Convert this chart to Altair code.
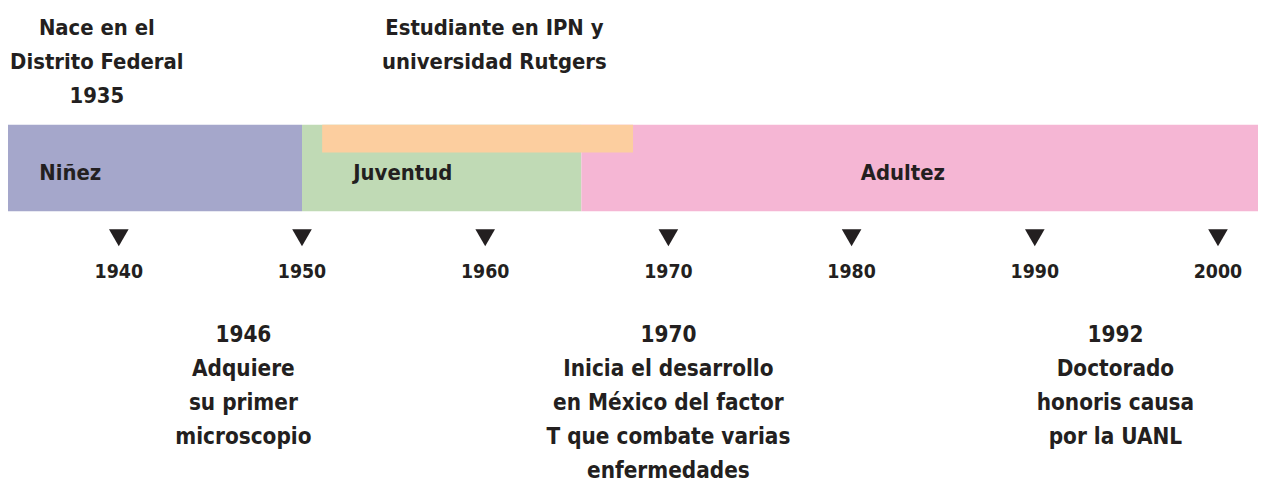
import altair as alt
import pandas as pd

# ---- data ----
stage_names = ["Niñez", "Juventud", "Adultez"]
stage_start = [1933.7, 1950.0, 1965.25]
stage_end = [1950.0, 1965.25, 2003.0]
stage_colors = ["#A5A7CB", "#C0DAB5", "#F5B6D4"]
stage_label_year = [1937.35, 1955.5, 1982.8]

study_start = [1951.1]
study_end = [1968.07]

tick_years = [1940, 1950, 1960, 1970, 1980, 1990, 2000]

top_notes = [
    ["Nace en el", "Distrito Federal", "1935"],
    ["Estudiante en IPN y", "universidad Rutgers"],
]
top_note_year = [1938.8, 1960.5]

event_lines = [
    ["1946", "Adquiere", "su primer", "microscopio"],
    ["1970", "Inicia el desarrollo", "en México del factor", "T que combate varias", "enfermedades"],
    ["1992", "Doctorado", "honoris causa", "por la UANL"],
]
event_year = [1946.8, 1970.0, 1994.4]

# ---- tables ----
stages = pd.DataFrame({"name": stage_names, "start": stage_start, "end": stage_end,
                       "lx": stage_label_year})
study = pd.DataFrame({"start": study_start, "end": study_end})
ticks = pd.DataFrame({"year": tick_years})
tops = alt.Data(values=[{"lines": l, "x": x} for l, x in zip(top_notes, top_note_year)])
events = alt.Data(values=[{"lines": l, "x": x} for l, x in zip(event_lines, event_year)])

FONT = "DejaVu Sans Condensed, DejaVu Sans, sans-serif"
INK = "#231F20"
xs = alt.Scale(domain=[1933.952, 2002.184], clamp=True, nice=False, zero=False)

bars = alt.Chart(stages).mark_rect().encode(
    x=alt.X("start:Q", scale=xs, axis=None),
    x2="end:Q",
    y=alt.value(116),
    y2=alt.value(203),
    color=alt.Color("name:N", scale=alt.Scale(domain=stage_names, range=stage_colors), legend=None),
)

study_band = alt.Chart(study).mark_rect(color="#FCCE9F").encode(
    x=alt.X("start:Q", scale=xs, axis=None),
    x2="end:Q",
    y=alt.value(116),
    y2=alt.value(144),
)

stage_text = alt.Chart(stages).mark_text(
    font=FONT, fontWeight="bold", fontSize=22, color=INK, baseline="alphabetic", align="center"
).encode(
    x=alt.X("lx:Q", scale=xs, axis=None),
    y=alt.value(171.6),
    text="name:N",
)

tri = alt.Chart(ticks).mark_point(
    shape="triangle-down", filled=True, size=390, color=INK, opacity=1
).encode(
    x=alt.X("year:Q", scale=xs, axis=None),
    y=alt.value(229.7),
)

year_text = alt.Chart(ticks).mark_text(
    font=FONT, fontWeight="bold", fontSize=19.5, color=INK, baseline="alphabetic", align="center"
).encode(
    x=alt.X("year:Q", scale=xs, axis=None),
    y=alt.value(270.3),
    text=alt.Text("year:Q", format="d"),
)

top_text = alt.Chart(tops).mark_text(
    font=FONT, fontWeight="bold", fontSize=22, color=INK, baseline="alphabetic",
    align="center", lineHeight=34
).encode(
    x=alt.X("x:Q", scale=xs, axis=None),
    y=alt.value(26),
    text="lines:N",
)

event_text = alt.Chart(events).mark_text(
    font=FONT, fontWeight="bold", fontSize=22.5, color=INK, baseline="alphabetic",
    align="center", lineHeight=34
).encode(
    x=alt.X("x:Q", scale=xs, axis=None),
    y=alt.value(335),
    text="lines:N",
)

chart = alt.layer(bars, study_band, stage_text, tri, year_text, top_text, event_text).properties(
    width=1258, height=475, padding=0, autosize="none", background="white"
).configure_view(stroke=None)

chart.save("out.html", embed_options={"renderer": "svg", "actions": False})
